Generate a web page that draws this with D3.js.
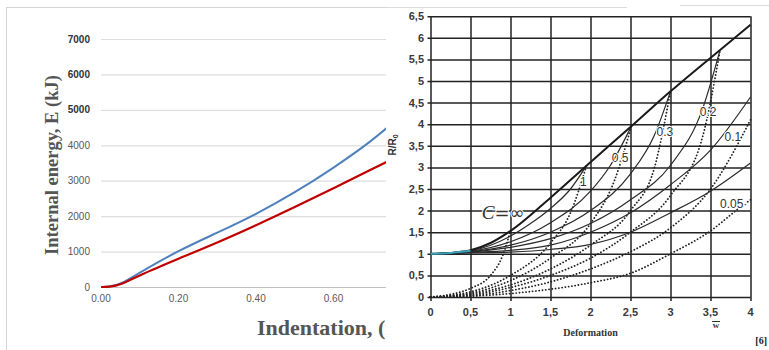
<!DOCTYPE html>
<html>
<head>
<meta charset="utf-8">
<script src="https://cdn.jsdelivr.net/npm/d3@7"></script>
<style>
  body { margin: 0; background: #fff; }
  svg { display: block; }
</style>
</head>
<body>
<div id="chart"></div>
<script>
// ---- left chart data (Internal energy vs indentation)
const indentation = [0, 0.02, 0.05, 0.1, 0.2, 0.3, 0.4, 0.5, 0.6, 0.7, 0.76];
const energyBlue = [0, 0, 70, 410, 1030, 1530, 2050, 2660, 3360, 4130, 4700];
const energyRed = [0, 0, 50, 340, 800, 1250, 1740, 2250, 2790, 3330, 3650];
const energyTicks = [0, 1000, 2000, 3000, 4000, 5000, 6000, 7000];
const indentTicks = [0, 0.2, 0.4, 0.6];

// ---- right chart data (R/R0 vs deformation), [w, R/R0]
const solidInf = [[0,1],[0.25,1.02],[0.5,1.08],[0.75,1.25],[1,1.53],[1.5,2.3],[1.95,3.04],[2.51,3.95],[3,4.76],[3.62,5.72],[4,6.3]];
const solid1 = [[0,1],[0.5,1.07],[1,1.41],[1.25,1.7],[1.5,2.05],[1.75,2.5],[1.95,3.04]];
const solid05 = [[0,1],[0.5,1.06],[1,1.28],[1.5,1.72],[2,2.45],[2.25,3.05],[2.51,3.95]];
const solid03 = [[0,1],[0.5,1.05],[1,1.2],[1.5,1.5],[2,2.0],[2.5,2.85],[2.8,3.75],[3,4.76]];
const solid02 = [[0,1],[0.5,1.04],[1,1.15],[1.5,1.35],[2,1.7],[2.5,2.25],[3,3.05],[3.4,4.35],[3.62,5.72]];
const solid01 = [[0,1],[0.5,1.03],[1,1.08],[1.5,1.2],[2,1.5],[2.5,1.95],[3,2.6],[3.5,3.4],[4,4.63]];
const solid005 = [[0,1],[0.5,1.02],[1,1.04],[1.5,1.1],[2,1.22],[2.5,1.5],[3,1.95],[3.5,2.45],[4,3.1]];

const dotInf = [[0,0],[0.25,0.06],[0.5,0.2],[0.75,0.5],[0.9,0.95],[1.0,1.53]];
const dot1 = [[0,0],[0.5,0.12],[1,0.5],[1.5,1.25],[1.75,1.95],[1.95,3.04]];
const dot05 = [[0,0],[0.5,0.09],[1,0.38],[1.5,0.9],[2,1.7],[2.3,2.7],[2.51,3.95]];
const dot03 = [[0,0],[0.5,0.07],[1,0.28],[1.5,0.65],[2,1.2],[2.5,2.0],[2.8,3.0],[3,4.76]];
const dot02 = [[0,0],[0.5,0.05],[1,0.22],[1.5,0.5],[2,0.9],[2.5,1.5],[3,2.35],[3.4,3.7],[3.62,5.72]];
const dot01 = [[0,0],[0.5,0.03],[1,0.15],[1.5,0.35],[2,0.65],[2.5,1.05],[3,1.6],[3.5,2.5],[4,4.1]];
const dot005 = [[0,0],[0.5,0.02],[1,0.08],[1.5,0.18],[2,0.33],[2.5,0.55],[3,1.0],[3.5,1.53],[3.86,2.06],[4,2.25]];
const cyanStart = [[0,1],[0.25,1.02],[0.5,1.07]];

const deformTicks = [0, 0.5, 1, 1.5, 2, 2.5, 3, 3.5, 4];
const ratioTicks = [0, 0.5, 1, 1.5, 2, 2.5, 3, 3.5, 4, 4.5, 5, 5.5, 6, 6.5];

// curve labels: [text, w, r]
const curveLabels = [["1", 1.91, 2.56], ["0.5", 2.37, 3.13], ["0.3", 2.93, 3.73], ["0.2", 3.47, 4.2], ["0.1", 3.78, 3.6], ["0.05·", 3.79, 2.05]];

const W = 769, H = 350;
const svg = d3.select("#chart").append("svg")
  .attr("width", W)
  .attr("height", H);

// ================= left panel =================
svg.append("clipPath").attr("id", "leftClip")
  .append("rect").attr("x", 0).attr("y", 0).attr("width", 386).attr("height", H);

const left = svg.append("g").attr("clip-path", "url(#leftClip)");

// frame
left.append("rect")
  .attr("x", 6.5).attr("y", 7.5)
  .attr("width", 500).attr("height", 400)
  .attr("fill", "#fff")
  .attr("stroke", "#d4d4d4");

const xL = d3.scaleLinear().domain([0, 0.8]).range([101, 411]);
const yL = d3.scaleLinear().domain([0, 7000]).range([287, 39]);

// horizontal grid
left.append("g")
  .selectAll("line")
  .data(energyTicks)
  .enter()
  .append("line")
    .attr("x1", xL(0)).attr("x2", 400)
    .attr("y1", d => yL(d) + 0.5).attr("y2", d => yL(d) + 0.5)
    .attr("stroke", d => d === 0 ? "#bfbfbf" : "#dedede")
    .attr("stroke-width", 1.2);

// y tick labels
left.append("g")
  .selectAll("text")
  .data(energyTicks)
  .enter()
  .append("text")
    .attr("x", 90)
    .attr("y", d => yL(d) + 3.5)
    .attr("text-anchor", "end")
    .style("font-family", "'Liberation Sans', Arial, sans-serif")
    .style("font-size", "10px")
    .style("font-weight", d => d >= 5000 ? "bold" : "normal")
    .style("fill", d => d >= 5000 ? "#333" : "#595959")
    .text(d => d);

// x tick labels
left.append("g")
  .selectAll("text")
  .data(indentTicks)
  .enter()
  .append("text")
    .attr("x", d => xL(d))
    .attr("y", 302)
    .attr("text-anchor", "middle")
    .style("font-family", "'Liberation Sans', Arial, sans-serif")
    .style("font-size", "10px")
    .style("fill", "#595959")
    .text(d => d3.format(".2f")(d));

// lines
const energyLine = d3.line()
  .x(d => xL(d[0]))
  .y(d => yL(d[1]))
  .curve(d3.curveBasis);

left.append("path")
  .datum(indentation.map((v, i) => [v, energyBlue[i]]))
  .attr("d", energyLine)
  .attr("fill", "none")
  .attr("stroke", "#4f81bd")
  .attr("stroke-width", 2);

left.append("path")
  .datum(indentation.map((v, i) => [v, energyRed[i]]))
  .attr("d", energyLine)
  .attr("fill", "none")
  .attr("stroke", "#c00000")
  .attr("stroke-width", 2.2);

// axis titles
left.append("text")
  .attr("transform", "translate(58,165) rotate(-90)")
  .attr("text-anchor", "middle")
  .style("font-family", "'Liberation Serif', 'Times New Roman', serif")
  .style("font-size", "18.5px")
  .style("font-weight", "bold")
  .style("fill", "#555")
  .text("Internal energy, E (kJ)");

left.append("text")
  .attr("x", 257)
  .attr("y", 335)
  .style("font-family", "'Liberation Serif', 'Times New Roman', serif")
  .style("font-size", "22px")
  .style("font-weight", "bold")
  .style("fill", "#555")
  .text("Indentation, (mm)");

// top frame pieces over the right part
svg.append("line").attr("x1", 386).attr("x2", 627).attr("y1", 7.5).attr("y2", 7.5)
  .attr("stroke", "#dcdcdc");
svg.append("line").attr("x1", 680).attr("x2", 769).attr("y1", 5.5).attr("y2", 5.5)
  .attr("stroke", "#dcdcdc");

// ================= right panel =================
const right = svg.append("g");

const xR = d3.scaleLinear().domain([0, 4]).range([430.5, 750.5]);
const yR = d3.scaleLinear().domain([0, 6.5]).range([297, 16.2]);

// grid
right.append("g")
  .attr("transform", `translate(0,${yR(0)})`)
  .call(d3.axisBottom(xR).tickValues(deformTicks).tickSize(-(yR(0) - yR(6.5))).tickSizeOuter(0).tickFormat(""))
  .call(g => g.select(".domain").remove())
  .selectAll("line")
    .attr("stroke", "#222")
    .attr("stroke-width", 1.5)
    .attr("y1", 4);

right.append("g")
  .attr("transform", `translate(${xR(0)},0)`)
  .call(d3.axisLeft(yR).tickValues(ratioTicks).tickSize(-(xR(4) - xR(0))).tickSizeOuter(0).tickFormat(""))
  .call(g => g.select(".domain").remove())
  .selectAll("line")
    .attr("stroke", "#222")
    .attr("stroke-width", 1.5)
    .attr("x1", -3);

const fmtComma = d => String(d).replace(".", ",");

// tick labels
right.append("g")
  .selectAll("text")
  .data(ratioTicks)
  .enter()
  .append("text")
    .attr("x", 424)
    .attr("y", d => yR(d) + 4)
    .attr("text-anchor", "end")
    .style("font-family", "'Liberation Sans', Arial, sans-serif")
    .style("font-size", "11px")
    .style("font-weight", "bold")
    .style("fill", "#3a3a3a")
    .text(fmtComma);

right.append("g")
  .selectAll("text")
  .data(deformTicks)
  .enter()
  .append("text")
    .attr("x", d => xR(d))
    .attr("y", 316)
    .attr("text-anchor", "middle")
    .style("font-family", "'Liberation Sans', Arial, sans-serif")
    .style("font-size", "11px")
    .style("font-weight", "bold")
    .style("fill", "#3a3a3a")
    .text(fmtComma);

// curves
const ratioLine = d3.line()
  .x(d => xR(d[0]))
  .y(d => yR(d[1]))
  .curve(d3.curveMonotoneX);

const dotted = [dotInf, dot1, dot05, dot03, dot02, dot01, dot005];
right.append("g")
  .selectAll("path")
  .data(dotted)
  .enter()
  .append("path")
    .attr("d", ratioLine)
    .attr("fill", "none")
    .attr("stroke", "#222")
    .attr("stroke-width", 1.8)
    .attr("stroke-linecap", "round")
    .attr("stroke-dasharray", "0.1,3.2");

const solid = [solid1, solid05, solid03, solid02, solid01, solid005];
right.append("g")
  .selectAll("path")
  .data(solid)
  .enter()
  .append("path")
    .attr("d", ratioLine)
    .attr("fill", "none")
    .attr("stroke", "#2b2b2b")
    .attr("stroke-width", 1.2);

right.append("path")
  .datum(solidInf)
  .attr("d", ratioLine)
  .attr("fill", "none")
  .attr("stroke", "#1a1a1a")
  .attr("stroke-width", 2);

right.append("path")
  .datum(cyanStart)
  .attr("d", ratioLine)
  .attr("fill", "none")
  .attr("stroke", "#36a3b8")
  .attr("stroke-width", 2);

// curve labels
right.append("g")
  .selectAll("text")
  .data(curveLabels)
  .enter()
  .append("text")
    .attr("x", d => xR(d[1]))
    .attr("y", d => yR(d[2]))
    .attr("text-anchor", "middle")
    .style("font-family", "'Liberation Sans', Arial, sans-serif")
    .style("font-size", "12px")
    .style("fill", "#333")
    .style("paint-order", "stroke")
    .style("stroke", "#fff")
    .style("stroke-width", 2)
    .text(d => d[0]);

const cLabel = right.append("text")
  .attr("x", xR(0.64))
  .attr("y", yR(1.8))
  .style("font-size", "19px")
  .style("fill", "#333")
  .style("paint-order", "stroke")
  .style("stroke", "#fff")
  .style("stroke-width", 2);
cLabel.append("tspan")
  .style("font-family", "'Liberation Serif', serif")
  .style("font-style", "italic")
  .text("C");
cLabel.append("tspan")
  .style("font-family", "'DejaVu Sans', sans-serif")
  .style("font-size", "18px")
  .text("=∞");

// axis labels
right.append("text")
  .attr("transform", "translate(396,145) rotate(-90)")
  .attr("text-anchor", "middle")
  .style("font-family", "'Liberation Sans', Arial, sans-serif")
  .style("font-size", "10px")
  .style("font-weight", "bold")
  .style("fill", "#333")
  .html("R/R<tspan dy='2' font-size='7'>0</tspan>");

right.append("text")
  .attr("x", xR(2))
  .attr("y", 336)
  .attr("text-anchor", "middle")
  .style("font-family", "'Liberation Serif', serif")
  .style("font-size", "10px")
  .style("font-weight", "bold")
  .style("fill", "#333")
  .text("Deformation");

right.append("text")
  .attr("x", 716)
  .attr("y", 328)
  .attr("text-anchor", "middle")
  .style("font-family", "'Liberation Serif', serif")
  .style("font-size", "9px")
  .style("font-weight", "bold")
  .style("fill", "#333")
  .text("w");
right.append("line")
  .attr("x1", 712).attr("x2", 720)
  .attr("y1", 321.5).attr("y2", 321.5)
  .attr("stroke", "#333").attr("stroke-width", 1);

svg.append("text")
  .attr("x", 767)
  .attr("y", 344)
  .attr("text-anchor", "end")
  .style("font-family", "'Liberation Serif', serif")
  .style("font-size", "10px")
  .style("font-weight", "bold")
  .style("fill", "#222")
  .text("[6]");
</script>
</body>
</html>
